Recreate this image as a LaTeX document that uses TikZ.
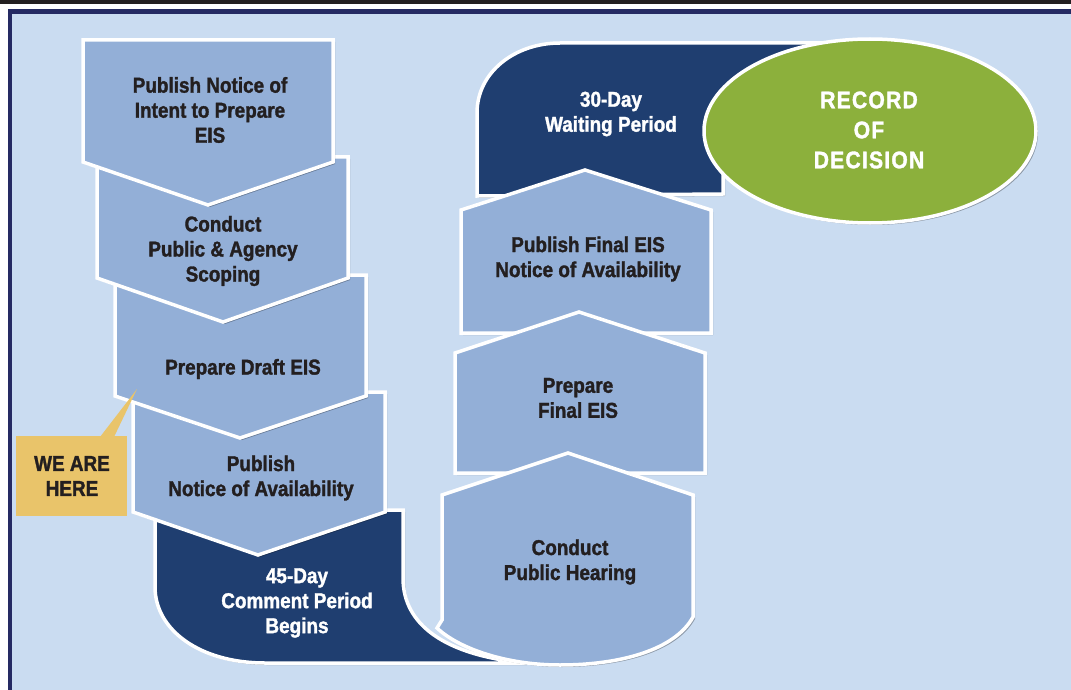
\documentclass[tikz,border=0pt]{standalone}
\usepackage{fontspec}
\setmainfont{Liberation Sans}[FakeStretch=0.88, BoldFeatures={FakeBold=1.5}]
\usetikzlibrary{shadows}
\definecolor{bglight}{HTML}{CADCF1}
\definecolor{boxblue}{HTML}{93AFD7}
\definecolor{navy}{HTML}{1F3E70}
\definecolor{leaf}{HTML}{8CB03C}
\definecolor{gold}{HTML}{E9C46A}
\definecolor{framenavy}{HTML}{252A63}
\definecolor{ink}{HTML}{231F20}
\tikzset{
  shp/.style={draw=white, line width=3.5pt, line join=miter,
    drop shadow={shadow xshift=2pt, shadow yshift=-2pt, opacity=0.3, fill=black}},
  lightshape/.style={shp, fill=boxblue},
  darkshape/.style={shp, fill=navy},
  darktxt/.style={text=ink, align=center, font=\fontsize{21.5}{25}\selectfont\bfseries},
  whitetxt/.style={text=white, align=center, font=\fontsize{21.5}{25}\selectfont\bfseries},
}
\begin{document}
\begin{tikzpicture}[x=1pt, y=-1pt]
\useasboundingbox (0,0) rectangle (1071,690);
% frame
\fill[white] (0,0) rectangle (1071,690);
\fill[ink] (0,0) rectangle (1071,4.5);
\fill[framenavy] (8,9) rectangle (1071,690);
\fill[bglight] (12,14) rectangle (1071,690);

% left column (bottom first)
\path[darkshape] (155,510) -- (403,510) -- (403,578)
  .. controls (403,625) and (445,655) .. (525,663) -- (265,663)
  .. controls (200,663) and (155,630) .. (155,587) -- cycle;
\path[lightshape] (133,392) -- (385,392) -- (385,512) -- (258,555) -- (133,512) -- cycle;
\path[lightshape] (115,275) -- (366,275) -- (366,396) -- (240,438) -- (115,396) -- cycle;
\path[lightshape] (97,157) -- (348,157) -- (348,278) -- (223,322) -- (97,278) -- cycle;
\path[lightshape] (83,40) -- (333,40) -- (333,162) -- (208,205) -- (83,162) -- cycle;

% right column
\path[darkshape] (477,196) -- (477,113) .. controls (477,72) and (515,43) .. (560,43)
  -- (820,43) -- (820,140) -- (723,140) -- (723,194) -- cycle;
\draw[draw=white, line width=3.5pt, fill=leaf,
  drop shadow={shadow xshift=2pt, shadow yshift=-2pt, opacity=0.3, fill=black}]
  (870,131) ellipse [x radius=166, y radius=92];
\path[lightshape] (461,210) -- (585,170) -- (711,210) -- (711,333) -- (461,333) -- cycle;
\path[lightshape] (455,353) -- (579,312) -- (705,353) -- (705,473) -- (455,473) -- cycle;
\path[lightshape] (442,495) -- (568,453) -- (693,495) -- (693,617)
  .. controls (675,650) and (620,665) .. (560,665)
  .. controls (505,665) and (458,648) .. (437,628) -- (442,620) -- cycle;

% callout
\fill[gold] (16,436) rectangle (127,516);
\fill[gold] (100,437) -- (137,389) -- (114,437) -- cycle;

% texts
\node[darktxt] (t1) at (210,110) {Publish Notice of\\Intent to Prepare\\EIS};
\node[darktxt] (t2) at (223,251) {Conduct\\Public \& Agency\\Scoping};
\node[darktxt] (t3) at (243,369) {Prepare Draft EIS};
\node[darktxt] (t4) at (261,478) {Publish\\Notice of Availability};
\node[whitetxt] (t5) at (297,603) {45-Day\\Comment Period\\Begins};
\node[darktxt] (t6) at (570,562) {Conduct\\Public Hearing};
\node[darktxt] (t7) at (578,398) {Prepare\\Final EIS};
\node[darktxt] (t8) at (588,259) {Publish Final EIS\\Notice of Availability};
\node[whitetxt] (t9) at (611,114) {30-Day\\Waiting Period};
\node[whitetxt, font=\fontsize{24}{30}\selectfont\bfseries\addfontfeature{LetterSpace=5}] (t10) at (869,130) {RECORD\\OF\\DECISION};
\node[darktxt] (t11) at (72,476) {WE ARE\\HERE};
\end{tikzpicture}
\end{document}
